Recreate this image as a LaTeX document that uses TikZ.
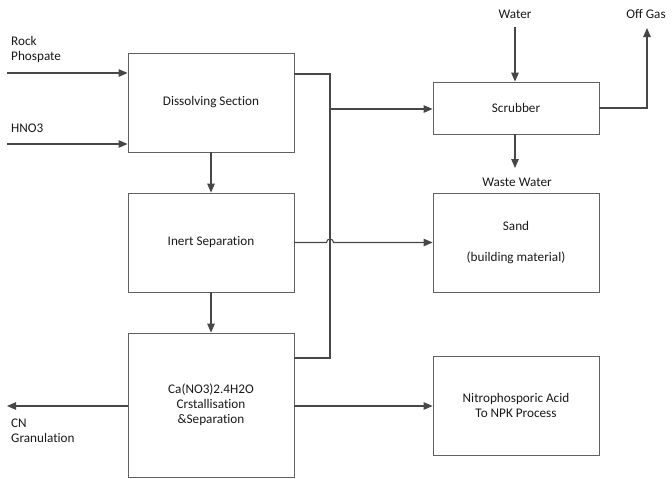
\documentclass[tikz,border=0pt]{standalone}
\usepackage{fontspec}
\setmainfont{Carlito}[Ligatures=CommonOff]
\usetikzlibrary{arrows.meta}
\begin{document}
\begin{tikzpicture}[x=1pt,y=-1pt,
  box/.style={draw=black!62,line width=0.8pt,inner sep=0pt,align=center,text=black!90},
  lbl/.style={inner sep=0pt,align=left,text=black!90},
  flow/.style={draw=black!72,line width=1.1pt,-{Triangle[length=9pt,width=7.5pt]}},
  pipe/.style={draw=black!72,line width=1.1pt},
  every node/.style={font=\fontsize{13.2}{15.2}\selectfont}]
\useasboundingbox (0,0) rectangle (672,479);
% boxes
\node[box,minimum width=166pt,minimum height=99pt] (diss) at (211,102.5) {Dissolving Section};
\node[box,minimum width=166pt,minimum height=99pt] (inert) at (211,242.5) {Inert Separation};
\node[box,minimum width=166pt,minimum height=144pt] (ca) at (211,405) {Ca(NO3)2.4H2O\\Crstallisation\\\&Separation};
\node[box,minimum width=166pt,minimum height=52pt] (scrub) at (516,108) {Scrubber};
\node[box,minimum width=166pt,minimum height=99pt] (sand) at (516,242.5) {Sand\\[16pt](building material)};
\node[box,minimum width=166pt,minimum height=99pt] (npk) at (516,405.5) {Nitrophosporic Acid\\To NPK Process};
% labels
\node[lbl,anchor=west] (rock) at (11,49.5) {Rock\\Phospate};
\node[lbl,anchor=west] (hno) at (11,128) {HNO3};
\node[lbl,anchor=west] (cn) at (11,431) {CN\\Granulation};
\node[lbl] (water) at (515,14) {Water};
\node[lbl] (offgas) at (646,14) {Off Gas};
\node[lbl] (waste) at (517,182) {Waste Water};
% coordinates
\coordinate (rockin) at (7,73);
\coordinate (hnoin) at (7,144);
\coordinate (cnout) at (7,406);
\coordinate (wtop) at (515,27);
\coordinate (gtop) at (647,28);
\coordinate (wwend) at (515,168);
\coordinate (busT) at (330,74);
\coordinate (busB) at (330,358);
\coordinate (busS) at (330,109);
% connectors
\draw[flow] (rockin) -- (diss.west |- rockin);
\draw[flow] (hnoin) -- (diss.west |- hnoin);
\draw[flow] (diss.south) -- (inert.north);
\draw[flow] (inert.south) -- (ca.north);
\draw[pipe] (diss.east |- busT) -- (busT) -- (busB) -- (ca.east |- busB);
\draw[flow] (busS) -- (scrub.west |- busS);
\draw[flow] (wtop) -- (scrub.north -| wtop);
\draw[flow] (scrub.east) -- (scrub.east -| gtop) -- (gtop);
\draw[flow] (scrub.south -| wwend) -- (wwend);
\draw[flow] (inert.east) -- (326.5,242.5) arc[start angle=180,end angle=0,radius=3.5pt] -- (sand.west);
\draw[flow] (ca.east |- cnout) -- (npk.west |- cnout);
\draw[flow] (ca.west |- cnout) -- (cnout);
\end{tikzpicture}
\end{document}
